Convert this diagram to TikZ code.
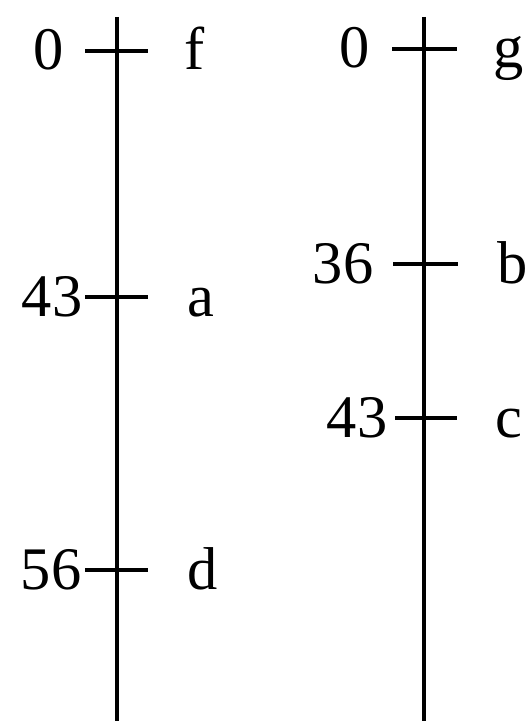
\documentclass[tikz,border=0pt]{standalone}
\usepackage{fontspec}
\setmainfont{Liberation Serif}
\usepackage{tikz}
\usetikzlibrary{positioning,calc}
\newcommand{\bigfont}{\fontsize{86pt}{90pt}\selectfont}
\tikzset{
  axisline/.style={line width=5.4pt, draw=black},
  tickmark/.style={line width=5.2pt, draw=black},
  numlabel/.style={font=\bigfont, anchor=base, inner sep=0pt},
  letlabel/.style={font=\bigfont, anchor=base west, inner sep=0pt},
}

\begin{document}
\begin{tikzpicture}[x=0.05cm, y=-0.05cm]
  \useasboundingbox (0,0) rectangle (527,721);
  % left scale
  \coordinate (ltop) at (117,17);
  \coordinate (lbot) at (117,721);
  \draw[axisline] (ltop) -- (lbot);
  \coordinate (tf) at (117,51);
  \coordinate (ta) at (117,297);
  \coordinate (td) at (117,570);
  \draw[tickmark] ($(tf)+(-32,0)$) -- ($(tf)+(31,0)$);
  \draw[tickmark] ($(ta)+(-32,0)$) -- ($(ta)+(31,0)$);
  \draw[tickmark] ($(td)+(-32,0)$) -- ($(td)+(31,0)$);
  \node (nf) [numlabel] at (49,70) {0};
  \node (lf) [letlabel] at (184,70) {f};
  \node (na) [numlabel] at (52,316) {43};
  \node (la) [letlabel] at (187,316) {a};
  \node (nd) [numlabel] at (51,589) {56};
  \node (ld) [letlabel] at (187,589) {d};
  % right scale
  \coordinate (rtop) at (424,17);
  \coordinate (rbot) at (424,721);
  \draw[axisline] (rtop) -- (rbot);
  \coordinate (tg) at (424,49);
  \coordinate (tb) at (424,264);
  \coordinate (tc) at (424,418);
  \draw[tickmark] ($(tg)+(-32,0)$) -- ($(tg)+(33,0)$);
  \draw[tickmark] ($(tb)+(-31,0)$) -- ($(tb)+(34,0)$);
  \draw[tickmark] ($(tc)+(-29,0)$) -- ($(tc)+(33,0)$);
  \node (ng) [numlabel] at (355,68) {0};
  \node (lg) [letlabel] at (493,68) {g};
  \node (nb) [numlabel] at (343,283) {36};
  \node (lb) [letlabel] at (497,283) {b};
  \node (nc) [numlabel] at (357,437) {43};
  \node (lc) [letlabel] at (495,437) {c};
\end{tikzpicture}
\end{document}
